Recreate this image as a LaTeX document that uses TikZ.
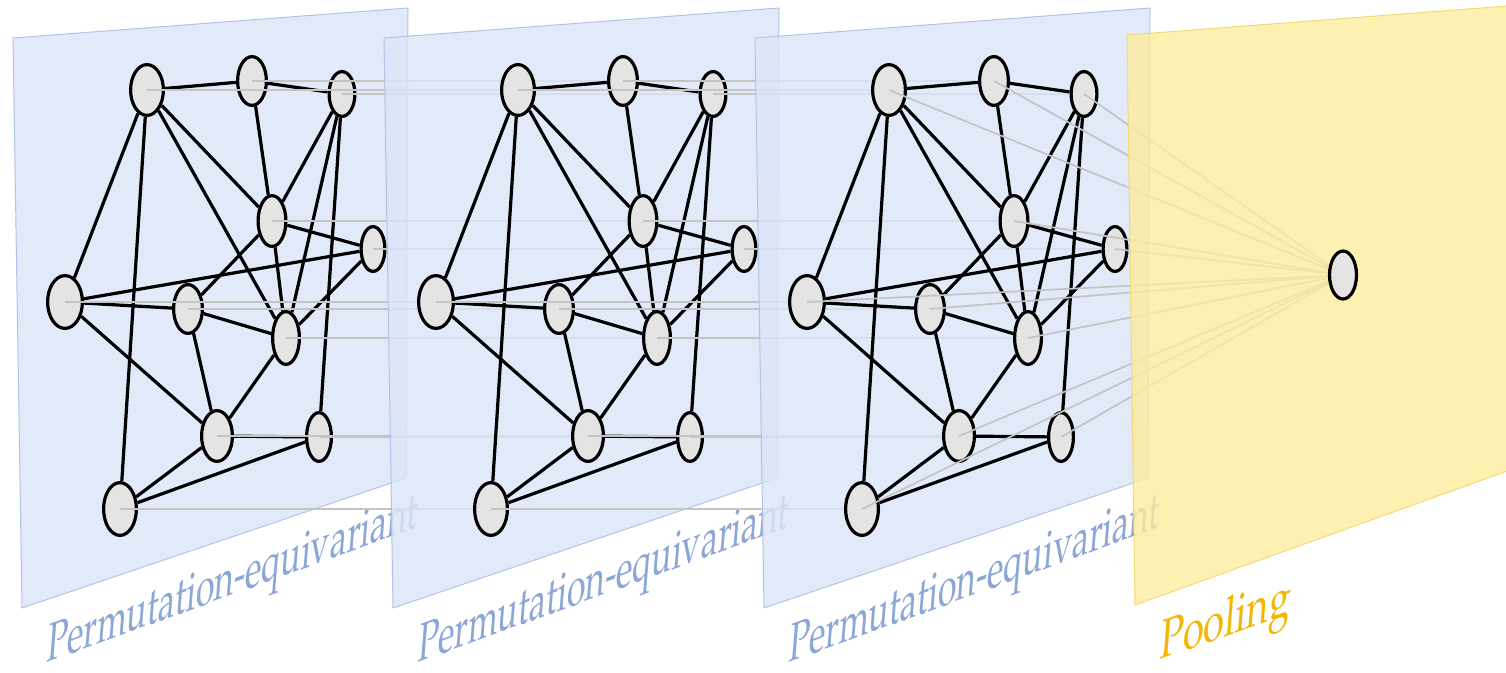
\documentclass[tikz,border=0pt]{standalone}
\usepackage[T1]{fontenc}
\usepackage{mathpazo}
\usetikzlibrary{shapes.geometric}
\definecolor{panelblue}{HTML}{DCE5F8}
\definecolor{panelbord}{HTML}{B3C3E6}
\definecolor{txtblue}{HTML}{8CA6D6}
\definecolor{panelyel}{HTML}{FDEC9E}
\definecolor{yelbord}{HTML}{F3D97A}
\definecolor{txtyel}{HTML}{F2B705}
\definecolor{nodegray}{HTML}{E4E4E4}
\definecolor{linkgray}{HTML}{C4C4C4}
\def\nodelist{A/147/90/18/27, B/252/81/16/26, C/342/94/14.5/24, D/272/221/15.5/27, E/373/249/13.5/24, F/65/302/19/28, G/188/309/16/26, H/286/338/15/28, I/217/436/17/27, J/319/437/14/26, K/120/509/18/28}
\def\edgelist{A/B, B/C, A/F, A/K, A/D, A/H, B/D, C/D, C/H, C/J, D/E, D/G, D/H, E/F, E/H, F/G, F/I, G/H, G/I, H/I, I/J, I/K, J/K}
\begin{document}
\begin{tikzpicture}[x=1pt,y=-1pt,
  panel/.style={fill=panelblue, fill opacity=0.82, draw=panelbord, line width=1pt, line join=round},
  ypanel/.style={fill=panelyel, fill opacity=0.8, draw=yelbord, line width=1pt, line join=round},
  gedge/.style={line width=3.2pt, draw=black},
  gnode/.style={ellipse, draw=black, line width=3.2pt, fill=nodegray, inner sep=0pt},
  link/.style={line width=1.7pt, draw=linkgray},
  lbl/.style={anchor=base west, inner sep=0pt, font={\fontsize{55}{66}\selectfont}, cm={0.615,0.225,0.08,1,(0,0)}},
  plbl/.style={anchor=base west, inner sep=0pt, font={\fontsize{56}{66}\selectfont}, cm={0.68,0.24,0.08,1,(0,0)}}]
\useasboundingbox (0,0) rectangle (1506,672);
\clip (0,0) rectangle (1506,672);
\foreach \L/\dx in {1/0,2/371,3/742}{
  \foreach \n/\x/\y/\rx/\ry in \nodelist { \coordinate (c\L\n) at (\x+\dx,\y); }
}
\coordinate (cpool) at (1343,275);
\foreach \L/\dx/\nx in {1/0/2, 2/371/3, 3/742/4}{
  \draw[panel] (13+\dx,38) -- (408+\dx,8) -- (406+\dx,478) -- (22+\dx,608) -- cycle;
  \node[lbl,text=txtblue] (T\L) at (46+\dx,663) {Permutation-equivariant};
  \foreach \n/\x/\y/\rx/\ry in \nodelist {
    \node[gnode, minimum width={(2*\rx-3.2)*1pt}, minimum height={(2*\ry-3.2)*1pt}] (L\L\n) at (c\L\n) {};
  }
  \foreach \a/\b in \edgelist { \draw[gedge] (L\L\a) -- (L\L\b); }
  \foreach \n/\x/\y/\rx/\ry in \nodelist {
    \ifnum\L<3 \draw[link] (L\L\n.center) -- (c\nx\n); \else \draw[link] (L\L\n.center) -- (cpool); \fi
  }
}
\draw[ypanel] (1127,35) -- (1560,2) -- (1560,452) -- (1135,605) -- cycle;
\node[gnode, minimum width=27pt, minimum height=48pt] (pool) at (cpool) {};
\node[plbl, text=txtyel] (Tpool) at (1159,660) {Pooling};
\end{tikzpicture}
\end{document}
